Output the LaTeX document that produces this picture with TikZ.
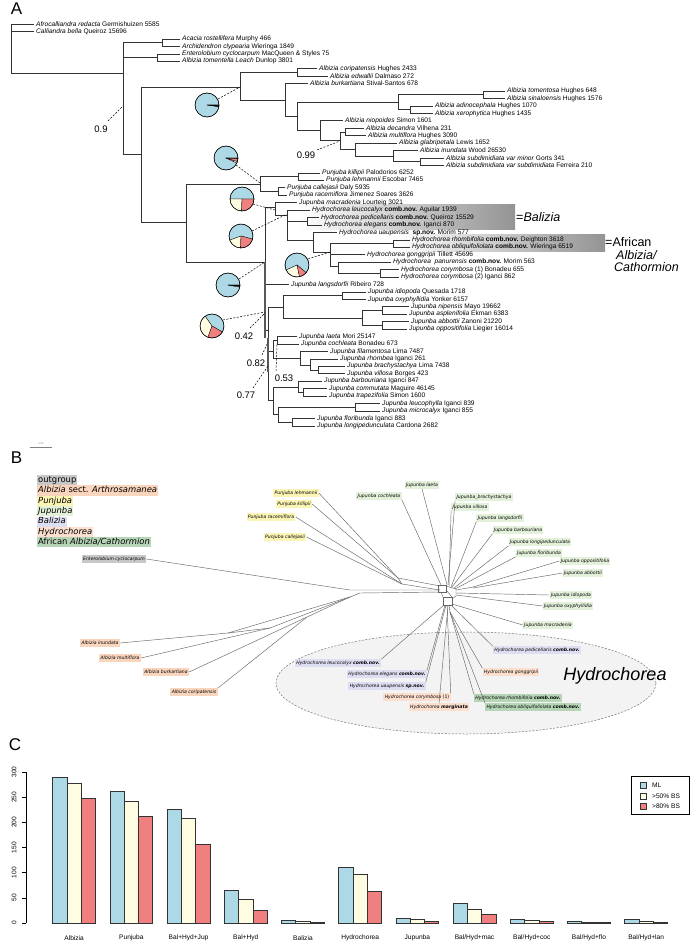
\documentclass[tikz,border=0pt]{standalone}
\usepackage{fontspec}
\setmainfont{Liberation Sans}
\newfontfamily\dvs{DejaVu Sans}
\definecolor{pblue}{HTML}{ADD8E6}
\definecolor{pcream}{HTML}{FFFDE1}
\definecolor{pred}{HTML}{F08080}
\definecolor{cout}{HTML}{C8C8C8}
\definecolor{carth}{HTML}{FAD5BD}
\definecolor{cpun}{HTML}{FAF4B5}
\definecolor{cjup}{HTML}{E3F0DA}
\definecolor{cbal}{HTML}{DDDEF1}
\definecolor{chyd}{HTML}{FCDFCE}
\definecolor{cafr}{HTML}{B6D5B6}
\definecolor{cell}{HTML}{F3F3F3}
\newcommand\pw[5]{\filldraw[fill=#5,draw=black,line width=0.3pt] (#1,#2) -- ++({12*cos(#3)},{-12*sin(#3)}) arc[start angle=#3,end angle=#4,radius=12pt] -- cycle;}
\begin{document}
\begin{tikzpicture}[x=1pt,y=-1pt,
  br/.style={line width=0.55pt,draw=black!80},
  tl/.style={anchor=west,inner sep=0pt,font=\fontsize{6.6}{7}\selectfont},
  sup/.style={line width=0.5pt,dash pattern=on 2pt off 1.5pt},
  suplab/.style={inner sep=0pt,font=\fontsize{9.5}{10}\selectfont},
  panel/.style={inner sep=0pt,font=\fontsize{17}{17}\selectfont},
  leg/.style={anchor=west,inner sep=1pt,font=\dvs\fontsize{8.4}{9}\selectfont,text height=6.3pt,text depth=1.8pt},
  bl/.style={inner sep=1.3pt,font=\dvs\itshape\fontsize{4.6}{5}\selectfont,text height=3.6pt,text depth=1pt},
  net/.style={draw=black!60,line width=0.45pt},
  bar/.style={draw=black!80,line width=0.7pt},
  axl/.style={inner sep=0pt,font=\fontsize{6.6}{7}\selectfont},
]
\useasboundingbox[fill=white] (0,0) rectangle (692,947);

% ================= PANEL A =================
\node[panel] (labA) at (16.5,9) {A};

\shade[left color=white,right color=black!42] (300,204) rectangle (515,229);
\shade[left color=white,right color=black!42] (395,234) rectangle (605,251);

% vertical branches
\foreach \x/\ya/\yb in {11/24/73,123/42.6/154,162/38.9/46.3,157/53.8/61.2,141/87/222,
 240/72.35/99.9,297/68.6/76.1,285/83.5/116.3,297/102.1/130.5,398/94.7/109.55,483/91.0/98.4,
 410/105.8/113.3,320/120.7/140.7,340/131.9/149.5,345/128.2/135.6,355/143.0/156.1,
 393/150.5/161.65,420/157.9/165.4,186/184/262,260/176.5/191.4,298/172.8/180.2,
 278/187.7/195.1,265/207/330,275/202.6/215,287/210.0/240,307/217.4/224.9,313/232.3/252,
 330/243.5/266,393/239.8/247.2,338/262.1/273.25,380/269.5/277.0,268/307/400,
 283/295.55/318,342/291.8/299.3,362/310.45/325.3,382/306.7/314.2,382/321.6/329.0,
 273/340.2/358,277/336.5/343.9,300/351.4/365,310/358.8/370,318/366.2/373.7,
 273/387/414.6,298/381.1/392.3,303/388.6/396.0,278/407.15/422.05,355/403.4/410.9,292/418.3/425.8}
 {\draw[br] (\x,\ya) -- (\x,\yb);}
% horizontal branches
\foreach \y/\xa/\xb in {24.0/11/34,31.4/11/34,38.9/162/180,46.3/162/180,53.8/157/180,61.2/157/180,
 68.6/297/317,76.1/297/328,83.5/285/308,91.0/483/505,98.4/483/505,105.8/410/433,113.3/410/433,
 120.7/320/343,128.2/345/364,135.6/345/366,143.0/355/397,150.5/393/418,157.9/420/444,165.4/420/444,
 172.8/298/320,180.2/298/324,187.7/278/285,195.1/278/287,202.6/275/297,210.0/287/310,
 217.4/307/319,224.9/307/322,232.3/313/337,239.8/393/410,247.2/393/410,254.6/330/365,
 262.1/338/391,269.5/380/399,277.0/380/399,284.4/265/289,291.8/342/366,299.3/342/366,
 306.7/382/409,314.2/382/407,321.6/382/409,329.0/382/407,336.5/277/297,343.9/277/299,
 351.4/300/328,358.8/310/338,366.2/318/345,373.7/318/345,381.1/298/322,388.6/303/327,
 396.0/303/327,403.4/355/380,410.9/355/380,418.3/292/315,425.8/292/315,
 73/11/123,42.6/123/162,57.5/123/157,154/123/141,87/141/240,222/141/186,72.35/240/297,
 99.9/240/285,116.3/285/297,102.1/297/398,130.5/297/320,94.7/398/483,109.55/398/410,
 140.7/320/340,131.9/340/345,149.5/340/355,156.1/355/393,161.65/393/420,184/186/260,
 262/186/265,176.5/260/298,191.4/260/278,207/265/275,330/265/268,215/275/287,
 221.15/287/307,240/287/313,252/313/330,243.5/330/393,266/330/338,273.25/338/380,
 307/268/283,351/268/273,400/268/273,295.55/283/342,318/283/362,310.45/362/382,
 325.3/362/382,340.2/273/277,358/273/300,365/300/310,370/310/318,387/273/298,
 414.6/273/278,392.3/298/303,407.15/278/355,422.05/278/292}
 {\draw[br] (\xa,\y) -- (\xb,\y);}
\draw[line width=1.6pt,draw=black!65] (265,262) -- (265,338);
\draw[line width=1.6pt,draw=black!65] (268,338) -- (268,372);

% tip labels
\node[tl] (t1) at (36,24.0) {\textit{Afrocalliandra redacta} Germishuizen 5585};
\node[tl] (t2) at (36,31.4) {\textit{Calliandra bella} Queiroz 15696};
\node[tl] (t3) at (182,38.9) {\textit{Acacia rostellifera} Murphy 466};
\node[tl] (t4) at (182,46.3) {\textit{Archidendron clypearia} Wieringa 1849};
\node[tl] (t5) at (182,53.8) {\textit{Enterolobium cyclocarpum} MacQueen \& Styles 75};
\node[tl] (t6) at (182,61.2) {\textit{Albizia tomentella Leach} Dunlop 3801};
\node[tl] (t7) at (319,68.6) {\textit{Albizia coripatensis} Hughes 2433};
\node[tl] (t8) at (330,76.1) {\textit{Albizia edwallii} Dalmaso 272};
\node[tl] (t9) at (310,83.5) {\textit{Albizia burkartiana} Stival-Santos 678};
\node[tl] (t10) at (507,91.0) {\textit{Albizia tomentosa} Hughes 648};
\node[tl] (t11) at (507,98.4) {\textit{Albizia sinaloensis} Hughes 1576};
\node[tl] (t12) at (435,105.8) {\textit{Albizia adinocephala} Hughes 1070};
\node[tl] (t13) at (435,113.3) {\textit{Albizia xerophytica} Hughes 1435};
\node[tl] (t14) at (345,120.7) {\textit{Albizia niopoides} Simon 1601};
\node[tl] (t15) at (366,128.2) {\textit{Albizia decandra} Vilhena 231};
\node[tl] (t16) at (368,135.6) {\textit{Albizia multiflora} Hughes 3090};
\node[tl] (t17) at (399,143.0) {\textit{Albizia glabripetala} Lewis 1652};
\node[tl] (t18) at (420,150.5) {\textit{Albizia inundata} Wood 26530};
\node[tl] (t19) at (446,157.9) {\textit{Albizia subdimidiata var minor} Gorts 341};
\node[tl] (t20) at (446,165.4) {\textit{Albizia subdimidiata var subdimidiata} Ferreira 210};
\node[tl] (t21) at (322,172.8) {\textit{Punjuba killipii} Palodorios 6252};
\node[tl] (t22) at (326,180.2) {\textit{Punjuba lehmannii} Escobar 7465};
\node[tl] (t23) at (287,187.7) {\textit{Punjuba callejasii} Daly 5935};
\node[tl] (t24) at (289,195.1) {\textit{Punjuba racemiflora} Jimenez Soares 3626};
\node[tl] (t25) at (299,202.6) {\textit{Jupunba macradenia} Lourteig 3021};
\node[tl] (t26) at (312,210.0) {\textit{Hydrochorea leucocalyx} \textbf{comb.nov.} Aguilar 1939};
\node[tl] (t27) at (321,217.4) {\textit{Hydrochorea pedicellaris} \textbf{comb.nov.} Queiroz 15529};
\node[tl] (t28) at (324,224.9) {\textit{Hydrochorea elegans} \textbf{comb.nov.} Iganci 870};
\node[tl] (t29) at (339,232.3) {\textit{Hydrochorea uaupensis}\ \ \textbf{sp.nov.} Morim 577};
\node[tl] (t30) at (412,239.8) {\textit{Hydrochorea rhombifolia} \textbf{comb.nov.} Deighton 3618};
\node[tl] (t31) at (412,247.2) {\textit{Hydrochorea obliquifoliolata} \textbf{comb.nov.} Wieringa 6519};
\node[tl] (t32) at (367,254.6) {\textit{Hydrochorea gonggripii} Tillett 45696};
\node[tl] (t33) at (393,262.1) {\textit{Hydrochorea\ \ panurensis} \textbf{comb.nov.} Morim 563};
\node[tl] (t34) at (401,269.5) {\textit{Hydrochorea corymbosa} (1) Bonadeu 655};
\node[tl] (t35) at (401,277.0) {\textit{Hydrochorea corymbosa} (2) Iganci 862};
\node[tl] (t36) at (291,284.4) {\textit{Jupunba langsdorfii} Ribeiro 728};
\node[tl] (t37) at (368,291.8) {\textit{Jupunba idiopoda} Quesada 1718};
\node[tl] (t38) at (368,299.3) {\textit{Jupunba oxyphyllidia} Yonker 6157};
\node[tl] (t39) at (411,306.7) {\textit{Jupunba nipensis} Mayo 19662};
\node[tl] (t40) at (409,314.2) {\textit{Jupunba asplenifolia} Ekman 6383};
\node[tl] (t41) at (411,321.6) {\textit{Jupunba abbottii} Zanoni 21220};
\node[tl] (t42) at (409,329.0) {\textit{Jupunba oppositifolia} Liegier 16014};
\node[tl] (t43) at (299,336.5) {\textit{Jupunba laeta} Mori 25147};
\node[tl] (t44) at (301,343.9) {\textit{Jupunba cochleata} Bonadeu 673};
\node[tl] (t45) at (330,351.4) {\textit{Jupunba filamentosa} Lima 7487};
\node[tl] (t46) at (340,358.8) {\textit{Jupunba rhombea} Iganci 261};
\node[tl] (t47) at (347,366.2) {\textit{Jupunba brachystachya} Lima 7438};
\node[tl] (t48) at (347,373.7) {\textit{Jupunba villosa} Borges 423};
\node[tl] (t49) at (324,381.1) {\textit{Jupunba barbouriana} Iganci 847};
\node[tl] (t50) at (329,388.6) {\textit{Jupunba commutata} Maguire 46145};
\node[tl] (t51) at (329,396.0) {\textit{Jupunba trapezifolia} Simon 1600};
\node[tl] (t52) at (382,403.4) {\textit{Jupunba leucophylla} Iganci 839};
\node[tl] (t53) at (382,410.9) {\textit{Jupunba microcalyx} Iganci 855};
\node[tl] (t54) at (317,418.3) {\textit{Jupunba floribunda} Iganci 883};
\node[tl] (t55) at (317,425.8) {\textit{Jupunba longipedunculata} Cardona 2682};

\node[anchor=west,inner sep=0pt,font=\fontsize{12.5}{13}\selectfont] (balz) at (516,217) {=\textit{Balizia}};
\node[anchor=west,inner sep=0pt,font=\fontsize{12.5}{13}\selectfont] (afr1) at (605,242) {=African};
\node[anchor=west,inner sep=0pt,font=\fontsize{12.5}{13}\selectfont] (afr2) at (616,255) {\textit{Albizia/}};
\node[anchor=west,inner sep=0pt,font=\fontsize{12.5}{13}\selectfont] (afr3) at (614,267) {\textit{Cathormion}};

% support values
\node[suplab] (s09) at (101,129) {0.9};
\draw[sup] (108,121) -- (123,106);
\node[suplab] (s099) at (306,155) {0.99};
\draw[sup] (317,150) -- (340,141);
\node[suplab] (s042) at (244,336) {0.42};
\draw[sup] (250,328) -- (265,313);
\node[suplab] (s082) at (256,363) {0.82};
\draw[sup] (262,355) -- (268,342);
\node[suplab] (s053) at (284,378) {0.53};
\draw[sup] (276,371) -- (277,344);
\node[suplab] (s077) at (246,395) {0.77};
\draw[sup] (253,388) -- (268,366);

% pies
\draw[sup] (218,99) -- (240,87);
\pw{207}{105}{0}{352}{pblue}\pw{207}{105}{352}{360}{black}
\draw[line width=0.5pt] (207,105) circle[radius=12pt];

\draw[sup] (236,165) -- (260,183);
\pw{226}{158}{0}{335}{pblue}\pw{226}{158}{335}{343}{pcream}\pw{226}{158}{343}{358}{pred}\pw{226}{158}{358}{360}{black}
\draw[line width=0.5pt] (226,158) circle[radius=12pt];

\draw[sup] (253,204) -- (275,210);
\pw{242}{199}{0}{180}{pblue}\pw{242}{199}{180}{268}{pcream}\pw{242}{199}{268}{360}{pred}
\draw[line width=0.5pt] (242,199) circle[radius=12pt];

\draw[sup] (252,231) -- (287,214);
\pw{241}{236}{-15}{200}{pblue}\pw{241}{236}{200}{268}{pcream}\pw{241}{236}{268}{345}{pred}
\draw[line width=0.5pt] (241,236) circle[radius=12pt];

\draw[sup] (239,279) -- (265,262);
\pw{228}{285}{0}{350}{pblue}\pw{228}{285}{350}{355}{pred}\pw{228}{285}{355}{360}{black}
\draw[line width=0.5pt] (228,285) circle[radius=12pt];

\draw[sup] (308,259) -- (330,252);
\pw{297}{265}{-40}{205}{pblue}\pw{297}{265}{205}{282}{pcream}\pw{297}{265}{282}{320}{pred}
\draw[line width=0.5pt] (297,265) circle[radius=12pt];

\draw[sup] (223,320) -- (265,312);
\pw{212}{326}{-30}{125}{pblue}\pw{212}{326}{125}{250}{pcream}\pw{212}{326}{250}{330}{pred}
\draw[line width=0.5pt] (212,326) circle[radius=12pt];

% scale bar
\draw[line width=0.4pt,draw=black!50] (30,447) -- (52,447);
\node[inner sep=0pt,font=\fontsize{2.5}{3}\selectfont,text=black!50] (scl) at (41,444) {0.04};

% ================= PANEL B =================
\node[panel] (labB) at (16.5,458) {B};
\node[leg,fill=cout] (lg1) at (37,480) {outgroup};
\node[leg,fill=carth] (lg2) at (37,490.5) {\textit{Albizia} sect. \textit{Arthrosamanea}};
\node[leg,fill=cpun] (lg3) at (37,501) {\textit{Punjuba}};
\node[leg,fill=cjup] (lg4) at (37,511.3) {\textit{Jupunba}};
\node[leg,fill=cbal] (lg5) at (37,521.6) {\textit{Balizia}};
\node[leg,fill=chyd] (lg6) at (37,532) {\textit{Hydrochorea}};
\node[leg,fill=cafr] (lg7) at (37,542.3) {African \textit{Albizia/Cathormion}};

\draw[dash pattern=on 2pt off 1.5pt,draw=black!55,fill=cell,line width=0.5pt] (466,683) ellipse[x radius=190pt,y radius=51pt];
\node[inner sep=0pt,font=\itshape\fontsize{18}{18}\selectfont] (hydbig) at (615,676) {Hydrochorea};

% labels
\node[bl,fill=cout] (ent) at (114,559) {Enterolobium cyclocarpum};
\node[bl,fill=carth] (ainu) at (100,643) {Albizia inundata};
\node[bl,fill=carth] (amul) at (120,658) {Albizia multiflora};
\node[bl,fill=carth] (abur) at (166,672) {Albizia burkartiana};
\node[bl,fill=carth] (acor) at (194,692) {Albizia coripatensis};
\node[bl,fill=cpun] (pl) at (296,493) {Punjuba lehmannii};
\node[bl,fill=cpun] (pk) at (294,504) {Punjuba killipii};
\node[bl,fill=cpun] (pr) at (271,517) {Punjuba racemiflora};
\node[bl,fill=cpun] (pc) at (285,537) {Punjuba callejasii};
\node[bl,fill=cjup] (jl) at (422,485) {Jupunba laeta};
\node[bl,fill=cjup] (jc) at (379,496) {Jupunba cochleata};
\node[bl,fill=cjup] (jbr) at (484,497) {Jupunba\_brachystachya};
\node[bl,fill=cjup] (jv) at (470,507) {Jupunba villosa};
\node[bl,fill=cjup] (jla) at (500,518) {Jupunba langsdorfii};
\node[bl,fill=cjup] (jba) at (518,530) {Jupunba barbouriana};
\node[bl,fill=cjup] (jlo) at (540,542) {Jupunba longipedunculata};
\node[bl,fill=cjup] (jfl) at (539,553) {Jupunba floribunda};
\node[bl,fill=cjup] (jop) at (585,561) {Jupunba oppositifolia};
\node[bl,fill=cjup] (jab) at (583,573) {Jupunba abbottii};
\node[bl,fill=cjup] (jid) at (571,595) {Jupunba idiopoda};
\node[bl,fill=cjup] (jox) at (568,606) {Jupunba oxyphyllidia};
\node[bl,fill=cjup] (jma) at (548,625) {Jupunba macradenia};
\node[bl,fill=cbal] (hle) at (338,663) {Hydrochorea leucocalyx \textbf{comb.nov.}};
\node[bl,fill=cbal] (hel) at (387,674) {Hydrochorea elegans \textbf{comb.nov.}};
\node[bl,fill=cbal] (hua) at (387,686) {Hydrochorea uaupensis \textbf{sp.nov.}};
\node[bl,fill=chyd] (hco) at (417,697) {Hydrochorea corymbosa \upshape(1)};
\node[bl,fill=chyd] (hma) at (439,707) {Hydrochorea \textbf{marginata}};
\node[bl,fill=cbal] (hpe) at (537,650) {Hydrochorea pedicellaris \textbf{comb.nov.}};
\node[bl,fill=chyd] (hgo) at (511,672) {Hydrochorea gonggripii};
\node[bl,fill=cafr] (hrh) at (518,698) {Hydrochorea rhombifolia \textbf{comb.nov.}};
\node[bl,fill=cafr] (hob) at (533,707) {Hydrochorea obliquifoliolata \textbf{comb.nov.}};

% network
\coordinate (aj1) at (307,617);
\coordinate (aj2) at (350,597);
\coordinate (pj1) at (398,578);
\coordinate (pj2) at (402,584);
\draw[net] (ent.east) -- (350,590) -- (440,590);
\draw[net] (acor.north east) -- (aj1);
\draw[net] (abur.east) -- (aj1);
\draw[net] (aj1) -- (aj2);
\draw[net] (amul.east) -- (270,628) -- (aj2);
\draw[net] (ainu.east) -- (228,633) -- (aj2);
\draw[net] (228,633) -- (270,628);
\draw[net] (aj2) -- (360,593) -- (440,592);
\draw[net] (pl.east) -- (pj1);
\draw[net] (pk.east) -- (pj1);
\draw[net] (pr.east) -- (pj2);
\draw[net] (pc.east) -- (pj2);
\draw[net] (pj1) -- (pj2);
\draw[net] (pj1) -- (440,586);
\draw[net] (pj2) -- (440,590);
% central tangle
\draw[net] (438,585) rectangle (446,592);
\draw[net] (443,597) rectangle (452,605);
\draw[net] (446,586) -- (456,589) -- (456,596) -- (452,599);
\draw[net] (441,592) -- (443,597);
\draw[net] (446,590) -- (452,597);
% Jupunba
\draw[net] (jl.south) -- (447,585);
\draw[net] (jc.south east) -- (441,585);
\draw[net] (jbr.south west) -- (448,585);
\draw[net] (jv.south west) -- (449,586);
\draw[net] (jla.south west) -- (451,587);
\draw[net] (jba.south west) -- (452,587);
\draw[net] (jlo.south west) -- (454,588);
\draw[net] (jfl.south west) -- (455,589);
\draw[net] (jop.west) -- (473,587) -- (456,590);
\draw[net] (jab.west) -- (473,588);
\draw[net] (jid.west) -- (456,593);
\draw[net] (jox.west) -- (456,595);
\draw[net] (jma.west) -- (452,604);
% Hydrochorea
\draw[net] (hle.north east) -- (444,605);
\draw[net] (hel.north east) -- (445,605);
\draw[net] (hua.north east) -- (446,605);
\draw[net] (hco.north east) -- (447,605);
\draw[net] (hma.north) -- (448,606);
\draw[net] (hpe.north west) -- (451,605);
\draw[net] (hgo.north west) -- (450,612);
\draw[net] (hrh.north west) -- (450,612);
\draw[net] (hob.north west) -- (450,612);
\draw[net] (450,612) -- (449,605);

% ================= PANEL C =================
\node[panel] (labC) at (15,745) {C};
\draw[line width=0.5pt] (26,772) -- (26,923);
\foreach \v in {0,50,100,150,200,250,300}{
  \draw[line width=0.5pt] (22,{923-0.5033*\v}) -- (26,{923-0.5033*\v});
  \node[axl,rotate=90,name=tk\v] at (14,{923-0.5033*\v}) {\v};
}
\foreach \i/\a/\b/\c in {0/290/277/248,1/262/242/211,2/225/207/156,3/64/48/26,4/6/3/1,
  5/111/96/62,6/9/7/3,7/40/28/18,8/7/5/3,9/4/2/2,10/7/3/1}{
  \pgfmathsetmacro\xl{52.7+57.2*\i}
  \filldraw[bar,fill=pblue] (\xl,923) rectangle ({\xl+14.3},{923-0.5033*\a});
  \filldraw[bar,fill=pcream] ({\xl+14.3},923) rectangle ({\xl+28.6},{923-0.5033*\b});
  \filldraw[bar,fill=pred] ({\xl+28.6},923) rectangle ({\xl+42.9},{923-0.5033*\c});
}
\node[axl] (g0) at (74.15,938) {Albizia};
\node[axl] (g1) at (131.35,938) {Punjuba};
\node[axl] (g2) at (188.55,938) {Bal+Hyd+Jup};
\node[axl] (g3) at (245.75,938) {Bal+Hyd};
\node[axl] (g4) at (302.95,938) {Balizia};
\node[axl] (g5) at (360.15,938) {Hydrochorea};
\node[axl] (g6) at (417.35,938) {Jupunba};
\node[axl] (g7) at (474.55,938) {Bal/Hyd+mac};
\node[axl] (g8) at (531.75,938) {Bal/Hyd+coc};
\node[axl] (g9) at (588.95,938) {Bal/Hyd+flo};
\node[axl] (g10) at (646.15,938) {Bal/Hyd+lan};

\draw[line width=0.7pt] (631,776) rectangle (689,814);
\filldraw[bar,line width=0.5pt,fill=pblue] (640,782) rectangle (646,788);
\filldraw[bar,line width=0.5pt,fill=pcream] (640,793) rectangle (646,799);
\filldraw[bar,line width=0.5pt,fill=pred] (640,803) rectangle (646,809);
\node[axl,anchor=west] (lml) at (652,785) {ML};
\node[axl,anchor=west] (l50) at (652,796) {>50\% BS};
\node[axl,anchor=west] (l80) at (652,806) {>80\% BS};
\end{tikzpicture}
\end{document}
